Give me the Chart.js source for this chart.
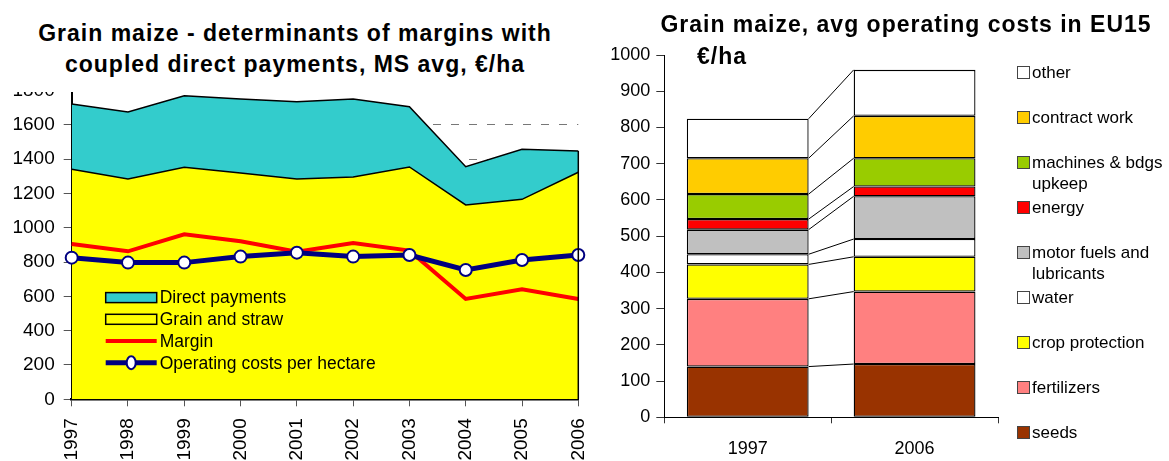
<!DOCTYPE html>
<html>
<head>
<meta charset="utf-8">
<script src="https://cdn.jsdelivr.net/npm/chart.js@4.4.1/dist/chart.umd.min.js"></script>
<style>
  body { margin: 0; background: #fff; font-family: Arial, "Liberation Sans", sans-serif; }
  #wrap { position: relative; width: 1169px; height: 461px; overflow: hidden; }
  canvas { position: absolute; top: 0; }
  #leftChart { left: 0; }
  #rightChart { left: 590px; }
  .title { position: absolute; font-weight: bold; font-size: 23px; letter-spacing: 1px; color: #000; white-space: nowrap; }
  #leftTitle { left: 0; top: 0; width: 590px; height: 92px; background: #fff; text-align: center;
               line-height: 31px; padding-top: 18px; box-sizing: border-box; }
  #rightTitle1 { left: 590px; top: 11px; width: 632px; text-align: center; }
  #rightTitle2 { left: 697px; top: 43px; }
  .leg { position: absolute; left: 1017px; font-size: 17px; line-height: 21px; color: #000; white-space: pre; }
  .leg .box { position: absolute; left: 0; width: 11px; height: 11px; border: 1px solid #444; }
  .leg .txt { position: absolute; left: 15px; top: 0; }
</style>
</head>
<body>
<div id="wrap">
  <canvas id="leftChart" width="590" height="461"></canvas>
  <canvas id="rightChart" width="579" height="461"></canvas>
  <div id="leftTitle" class="title">Grain maize - determinants of margins with<br>coupled direct payments, MS avg, €/ha</div>
  <div id="rightTitle1" class="title">Grain maize, avg operating costs in EU15</div>
  <div id="rightTitle2" class="title">€/ha</div>
  <div id="legendRight"></div>
</div>
<script>
// left chart: margins, €/ha
const maizeYears = ['1997', '1998', '1999', '2000', '2001', '2002', '2003', '2004', '2005', '2006'];
const grainAndStraw = [1341, 1285, 1353, 1320, 1285, 1296, 1355, 1133, 1166, 1324];
const directPayments = [381, 390, 417, 431, 450, 455, 351, 223, 292, 124];
const margin = [906, 863, 962, 921, 861, 911, 867, 585, 641, 585];
const operatingCosts = [826, 797, 797, 832, 855, 832, 841, 754, 812, 841];

// right chart: operating costs EU15, €/ha (bottom to top)
const costYears = ['1997', '2006'];
const costItems = ['seeds', 'fertilizers', 'crop protection', 'water', 'motor fuels and\nlubricants',
                   'energy', 'machines & bdgs\nupkeep', 'contract work', 'other'];
const costs1997 = [140, 187, 95, 28, 68, 29, 69, 99, 109];
const costs2006 = [147, 200, 96, 49, 118, 27, 78, 117, 127];
const costColours = ['#993300', '#ff8080', '#ffff00', '#ffffff', '#c0c0c0', '#ff0000', '#99cc00', '#ffcc00', '#ffffff'];

const FONT = 'Arial, "Liberation Sans", sans-serif';
Chart.defaults.font.family = FONT;
Chart.defaults.color = '#000';

// plain numbers, no thousands separator
function plain(v) { return String(v); }

// legend drawn inside the plot area, like the original
const innerLegend = {
  id: 'innerLegend',
  afterDraw(chart) {
    const ctx = chart.ctx;
    const area = chart.chartArea;
    const x0 = area.left + 34, w = 51;
    const rows = [
      { label: 'Direct payments', kind: 'box', ds: 3 },
      { label: 'Grain and straw', kind: 'box', ds: 2 },
      { label: 'Margin', kind: 'line', ds: 1 },
      { label: 'Operating costs per hectare', kind: 'marker', ds: 0 }
    ];
    ctx.save();
    rows.forEach(function (r, i) {
      const y = area.top + 207 + i * 21.7;
      const ds = chart.data.datasets[r.ds];
      if (r.kind === 'box') {
        ctx.fillStyle = ds.backgroundColor;
        ctx.fillRect(x0, y - 5, w, 10);
        ctx.strokeStyle = '#000';
        ctx.lineWidth = 1.5;
        ctx.strokeRect(x0, y - 5, w, 10);
      } else {
        ctx.strokeStyle = ds.borderColor;
        ctx.lineWidth = ds.borderWidth;
        ctx.beginPath();
        ctx.moveTo(x0, y);
        ctx.lineTo(x0 + w, y);
        ctx.stroke();
        if (r.kind === 'marker') {
          ctx.beginPath();
          ctx.ellipse(x0 + w / 2, y, 4.5, 6.5, 0, 0, Math.PI * 2);
          ctx.fillStyle = '#fff';
          ctx.fill();
          ctx.lineWidth = 2;
          ctx.stroke();
        }
      }
      ctx.fillStyle = '#000';
      ctx.font = '17.5px ' + FONT;
      ctx.textBaseline = 'middle';
      ctx.fillText(r.label, x0 + w + 3, y + 1);
    });

    // right edge of the stacked areas
    const top = chart.getDatasetMeta(3).data;
    const last = top[top.length - 1];
    ctx.strokeStyle = '#000';
    ctx.lineWidth = 1.5;
    ctx.beginPath();
    ctx.moveTo(last.x, last.y);
    ctx.lineTo(last.x, chart.scales.y.getPixelForValue(0));
    ctx.stroke();
    ctx.restore();
  }
};

new Chart(document.getElementById('leftChart'), {
  type: 'line',
  data: {
    labels: maizeYears,
    datasets: [
      { label: 'Operating costs per hectare', data: operatingCosts, stack: 'costs', order: 0,
        borderColor: '#000080', borderWidth: 5, pointRadius: 6, pointBackgroundColor: '#fff',
        pointBorderColor: '#000080', pointBorderWidth: 2, fill: false, clip: false },
      { label: 'Margin', data: margin, stack: 'margin', order: 1,
        borderColor: '#ff0000', borderWidth: 4, pointRadius: 0, fill: false },
      { label: 'Grain and straw', data: grainAndStraw, stack: 'revenue', order: 2,
        borderColor: '#000', borderWidth: 1.5, backgroundColor: '#ffff00', fill: 'origin', pointRadius: 0 },
      { label: 'Direct payments', data: directPayments, stack: 'revenue', order: 3,
        borderColor: '#000', borderWidth: 1.5, backgroundColor: '#33cccc', fill: '-1', pointRadius: 0 }
    ]
  },
  options: {
    responsive: false,
    animation: false,
    devicePixelRatio: 1,
    layout: { padding: { top: 90.6, right: 11.7, left: 0, bottom: 0 } },
    plugins: { legend: { display: false }, tooltip: { enabled: false } },
    elements: { line: { tension: 0 } },
    scales: {
      x: {
        offset: false,
        grid: { display: true, drawOnChartArea: false, tickLength: 7, tickColor: '#555' },
        border: { color: '#000', width: 2.5 },
        ticks: { font: { size: 19 }, minRotation: 90, maxRotation: 90, padding: 12, autoSkip: false },
        afterFit: function (s) { s.height = 61.7; s.paddingLeft = 0; s.paddingRight = 0; }
      },
      y: {
        stacked: true,
        min: 0, max: 1800,
        grid: { color: '#777', lineWidth: 1, tickLength: 8, tickColor: '#555', tickBorderDash: [] },
        border: { color: '#000', width: 2, dash: [8, 10] },
        ticks: { stepSize: 200, font: { size: 19 }, padding: 9, callback: plain },
        afterFit: function (s) { s.width = 71.7; }
      }
    }
  },
  plugins: [innerLegend]
});

// Excel-style series lines between the stacked columns
const seriesLines = {
  id: 'seriesLines',
  afterDatasetsDraw(chart) {
    const ctx = chart.ctx;
    ctx.save();
    ctx.strokeStyle = '#000';
    ctx.lineWidth = 1;
    chart.data.datasets.forEach(function (ds, i) {
      const bars = chart.getDatasetMeta(i).data;
      for (let k = 0; k < bars.length - 1; k++) {
        const a = bars[k], b = bars[k + 1];
        ctx.beginPath();
        ctx.moveTo(a.x + a.width / 2, a.y);
        ctx.lineTo(b.x - b.width / 2, b.y);
        ctx.stroke();
      }
    });
    ctx.restore();
  }
};

new Chart(document.getElementById('rightChart'), {
  type: 'bar',
  data: {
    labels: costYears,
    datasets: costItems.map(function (name, i) {
      return {
        label: name,
        data: [costs1997[i], costs2006[i]],
        backgroundColor: costColours[i],
        borderColor: '#000',
        borderWidth: 1.3,
        borderSkipped: false,
        categoryPercentage: 0.73,
        barPercentage: 1
      };
    })
  },
  options: {
    responsive: false,
    animation: false,
    devicePixelRatio: 1,
    layout: { padding: { top: 55, right: 171, left: 0, bottom: 0 } },
    plugins: { legend: { display: false }, tooltip: { enabled: false } },
    scales: {
      x: {
        stacked: true,
        grid: { display: true, offset: true, drawOnChartArea: false, tickLength: 6, tickColor: '#333' },
        border: { color: '#000', width: 1 },
        ticks: { font: { size: 18 }, padding: 15 },
        afterFit: function (s) { s.height = 43.7; }
      },
      y: {
        stacked: true,
        min: 0, max: 1000,
        grid: { display: true, drawOnChartArea: false, tickLength: 8, tickColor: '#333' },
        border: { color: '#000', width: 1 },
        ticks: { stepSize: 100, font: { size: 18 }, padding: 6, callback: plain },
        afterFit: function (s) { s.width = 74.3; }
      }
    }
  },
  plugins: [seriesLines]
});

// legend for the cost chart, top item first
const legendBox = document.getElementById('legendRight');
costItems.slice().reverse().forEach(function (name, i) {
  const colour = costColours[costItems.length - 1 - i];
  const centre = 72 + i * 45.1;
  const item = document.createElement('div');
  item.className = 'leg';
  item.style.top = (centre - 10.5) + 'px';
  item.innerHTML = '<div class="box" style="top:4px;background:' + colour + '"></div>' +
                   '<div class="txt"></div>';
  item.querySelector('.txt').textContent = name;
  legendBox.appendChild(item);
});
</script>
</body>
</html>
